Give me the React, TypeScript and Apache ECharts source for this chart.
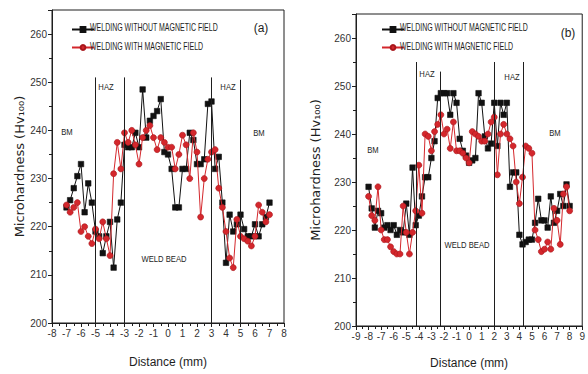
import { useEffect, useRef } from "react";
import * as echarts from "echarts";

const NAMES = ["WELDING WITHOUT MAGNETIC FIELD", "WELDING WITH MAGNETIC FIELD"];

// Chart (a)
const aDistance = [
  -7, -6.75, -6.5, -6.25, -6, -5.75, -5.5, -5.25, -5, -4.75, -4.5, -4.25, -4, -3.75, -3.5, -3.25,
  -3, -2.75, -2.5, -2.25, -2, -1.75, -1.5, -1.25, -1, -0.75, -0.5, -0.25, 0, 0.25, 0.5, 0.75,
  1, 1.25, 1.5, 1.75, 2, 2.25, 2.5, 2.75, 3, 3.25, 3.5, 3.75, 4, 4.25, 4.5, 4.75,
  5, 5.25, 5.5, 5.75, 6, 6.25, 6.5, 6.75, 7,
];
const aNoField = [
  224, 225.5, 228, 230.5, 233, 223, 229, 225, 219, 218, 214.5, 218, 221, 211.5, 221.5, 225,
  237, 236.5, 236.5, 239.5, 236.5, 248.5, 238.5, 242, 243, 244, 246.5, 235.5, 235, 232, 224, 224,
  232, 232, 239.5, 238, 233, 233, 234, 245.5, 246, 232, 234.5, 225, 212.5, 222.5, 219, 220.5,
  222.5, 219.5, 218, 218, 220.5, 218, 220.5, 222, 225,
];
const aField = [
  224.5, 223, 224, 225, 219, 220, 218, 216.5, 219.5, 217.5, 221, 217.5, 214, 231, 237.5, 232,
  239.5, 237.5, 240, 237, 233, 238.5, 240, 241, 238.5, 236, 238.5, 237.5, 236.5, 236.5, 232, 235,
  239, 237, 230, 239.5, 235.5, 222, 230, 234, 235.5, 236, 228, 224, 219, 213.5, 211.5, 221.5,
  218, 217.5, 217, 216, 218, 224.5, 223, 221, 222.5,
];
const aBoundaries = [-5, -3, 3, 5];
const aBoundaryTops = [251, 251, 251, 250.5];

// Chart (b)
const bDistance = [
  -8, -7.75, -7.5, -7.25, -7, -6.75, -6.5, -6.25, -6, -5.75, -5.5, -5.25, -5, -4.75, -4.5, -4.25,
  -4, -3.75, -3.5, -3.25, -3, -2.75, -2.5, -2.25, -2, -1.75, -1.5, -1.25, -1, -0.75, -0.5, -0.25,
  0, 0.25, 0.5, 0.75, 1, 1.25, 1.5, 1.75, 2, 2.25, 2.5, 2.75, 3, 3.25, 3.5, 3.75,
  4, 4.25, 4.5, 4.75, 5, 5.25, 5.5, 5.75, 6, 6.25, 6.5, 6.75, 7, 7.25, 7.5, 7.75, 8,
];
const bNoField = [
  229, 224.5, 220.5, 224, 223.5, 220.5, 221, 220, 221, 219, 220, 219.5, 225.5, 219, 233, 221,
  223, 227, 231, 231, 235, 238.5, 247.5, 248.5, 248.5, 248.5, 244, 248.5, 246.5, 239, 236.5, 235.5,
  234, 234.5, 235, 248.5, 246.5, 239.5, 237, 238, 246.5, 237.5, 246.5, 244, 246.5, 229, 232, 232,
  219, 217, 217.5, 218, 218, 221.5, 226.5, 222, 222, 220.5, 227, 221.5, 224, 227.5, 225, 229.5, 225,
];
const bField = [
  227, 223, 222, 229, 220, 218, 218, 216.5, 215.5, 215, 215, 225, 219.5, 215, 219.5, 224,
  233.5, 223.5, 240, 239.5, 236.5, 240.5, 242, 244, 240, 241, 237, 242.5, 236.5, 236.5, 236, 235,
  234, 240.5, 240, 239.5, 238.5, 238.5, 240, 242.5, 243.5, 231.5, 240, 242, 240, 239, 237.5, 230,
  225.5, 231, 237.5, 237, 236, 220, 218, 215.5, 216, 217.5, 216, 224.5, 222, 217, 227.5, 229, 224,
];
const bBoundaries = [-4.2, -2.3, 2.0, 4.3];
const bBoundaryTops = [255, 253, 255, 255];

const Y_MIN = 200;
const Y_MAX = 265;
const Y_STEP = 10;

const SANS = '"Liberation Sans", Arial, sans-serif';
const INK = "#1e1e1e";
const BLACK = "#111111";
const RED = "#d4272c";

function pairs(xs: number[], ys: number[]) {
  return xs.map((x, i) => [x, ys[i]]);
}

function boundaryLines(xs: number[], tops: number[]) {
  return xs.map((x, i) => [{ coord: [x, Y_MIN] }, { coord: [x, tops[i]] }]);
}

function xAxisDef(gridIndex: number, min: number, max: number, nameGap: number) {
  return {
    gridIndex,
    type: "value",
    min,
    max,
    interval: 1,
    name: "Distance (mm)",
    nameLocation: "middle",
    nameGap,
    nameTextStyle: { fontSize: 12, color: INK, fontFamily: SANS },
    axisLine: { show: true, onZero: false, lineStyle: { color: INK, width: 1 } },
    axisTick: { show: true, length: 4, lineStyle: { color: INK } },
    minorTick: { show: true, splitNumber: 2, length: 3, lineStyle: { color: INK } },
    axisLabel: { fontSize: 10, color: "#333", fontFamily: SANS, margin: 5 },
    splitLine: { show: false },
  };
}

function yAxisDef(gridIndex: number, nameGap: number) {
  return {
    gridIndex,
    type: "value",
    min: Y_MIN,
    max: Y_MAX,
    interval: Y_STEP,
    name: "Microhardness (Hv\u2081\u2080\u2080)",
    nameLocation: "middle",
    nameGap,
    nameRotate: 90,
    nameTextStyle: { fontSize: 13, color: INK, fontFamily: '"DejaVu Sans", sans-serif' },
    axisLine: { show: true, onZero: false, lineStyle: { color: INK, width: 1 } },
    axisTick: { show: true, length: 4, lineStyle: { color: INK } },
    minorTick: { show: true, splitNumber: 2, length: 3, lineStyle: { color: INK } },
    axisLabel: {
      fontSize: 10,
      color: "#333",
      fontFamily: SANS,
      margin: 5,
      formatter: (v: number) => (v % Y_STEP === 0 && v <= 260 ? String(v) : ""),
    },
    splitLine: { show: false },
  };
}

function lineSeries(
  name: string,
  idx: number,
  data: number[][],
  color: string,
  symbol: string,
  size: number,
  lines?: any
) {
  const s: any = {
    name,
    type: "line",
    xAxisIndex: idx,
    yAxisIndex: idx,
    data,
    symbol,
    symbolSize: size,
    showAllSymbol: true,
    lineStyle: { color, width: 1 },
    itemStyle: { color, borderColor: color === RED ? "#a8161b" : color, borderWidth: 0.6 },
    emphasis: { disabled: true },
    z: color === RED ? 3 : 2,
  };
  if (lines) {
    s.markLine = {
      silent: true,
      symbol: ["none", "none"],
      label: { show: false },
      lineStyle: { color: INK, width: 1, type: "solid" },
      emphasis: { disabled: true },
      data: lines,
    };
  }
  return s;
}

function label(text: string, x: number, y: number, size = 9, scaleX = 0.85, align = "center") {
  return {
    type: "text",
    x,
    y,
    scaleX,
    z: 10,
    style: {
      text,
      fill: INK,
      fontSize: size,
      fontFamily: SANS,
      align,
      verticalAlign: "middle",
    },
  };
}

function legendDef(left: number) {
  return {
    left,
    top: 20,
    orient: "vertical",
    itemWidth: 22,
    itemHeight: 6,
    itemGap: 9,
    selectedMode: false,
    data: NAMES,
    formatter: () => " ",
    textStyle: { fontSize: 9, color: INK, fontFamily: SANS },
  };
}

export default function App() {
  const ref = useRef<HTMLDivElement>(null);
  useEffect(() => {
    if (!ref.current) return;
    const chart = echarts.init(ref.current, undefined, { renderer: "svg" });
    chart.setOption({
      animation: false,
      backgroundColor: "#ffffff",
      textStyle: { fontFamily: SANS },
      grid: [
        { left: 52, top: 10, width: 232, height: 313, show: true, borderColor: INK, borderWidth: 1, backgroundColor: "transparent" },
        { left: 356, top: 14, width: 230, height: 314, show: true, borderColor: INK, borderWidth: 1, backgroundColor: "transparent" },
      ],
      xAxis: [xAxisDef(0, -8, 8, 33), xAxisDef(1, -9, 9, 31)],
      yAxis: [yAxisDef(0, 22), yAxisDef(1, 34)],
      legend: [legendDef(66), legendDef(376)],
      series: [
        lineSeries(NAMES[0], 0, pairs(aDistance, aNoField), BLACK, "rect", 5.5, boundaryLines(aBoundaries, aBoundaryTops)),
        lineSeries(NAMES[1], 0, pairs(aDistance, aField), RED, "circle", 6),
        lineSeries(NAMES[0], 1, pairs(bDistance, bNoField), BLACK, "rect", 5.5, boundaryLines(bBoundaries, bBoundaryTops)),
        lineSeries(NAMES[1], 1, pairs(bDistance, bField), RED, "circle", 6),
      ],
      graphic: [
        label(NAMES[0], 90, 28, 10, 0.7, "left"),
        label(NAMES[1], 90, 47, 10, 0.7, "left"),
        label(NAMES[0], 400, 28, 10, 0.7, "left"),
        label(NAMES[1], 400, 47, 10, 0.7, "left"),
        label("(a)", 261, 28, 12, 1),
        label("BM", 67, 132),
        label("HAZ", 106, 87),
        label("HAZ", 228, 87),
        label("BM", 259, 133),
        label("WELD BEAD", 164, 259),
        label("(b)", 568, 33, 12, 1),
        label("BM", 373, 150),
        label("HAZ", 427, 74),
        label("HAZ", 512, 77),
        label("BM", 555, 133),
        label("WELD BEAD", 467, 245),
      ],
    });
    return () => chart.dispose();
  }, []);
  return (
    <div
      ref={ref}
      style={{ position: "fixed", left: 0, top: 0, width: 588, height: 374, background: "#fff" }}
    />
  );
}
